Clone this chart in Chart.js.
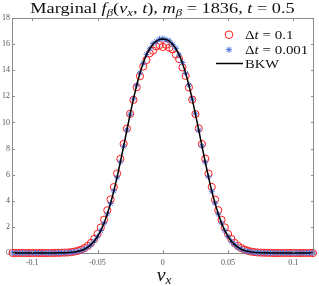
<!DOCTYPE html>
<html>
<head>
<meta charset="utf-8">
<script src="https://cdn.jsdelivr.net/npm/chart.js@4.4.1/dist/chart.umd.min.js"></script>
<style>
  html, body { margin: 0; padding: 0; background: #fff; }
  #wrap { width: 319px; height: 286px; }
</style>
</head>
<body>
<div id="wrap"><canvas id="c" width="319" height="286"></canvas></div>
<script>
// ---- data ----
const vx = [-0.115,-0.1125,-0.11,-0.1075,-0.105,-0.1025,-0.1,-0.0975,-0.095,-0.0925,-0.09,-0.0875,-0.085,-0.0825,-0.08,-0.0775,-0.075,-0.0725,-0.07,-0.0675,-0.065,-0.0625,-0.06,-0.0575,-0.055,-0.0525,-0.05,-0.0475,-0.045,-0.0425,-0.04,-0.0375,-0.035,-0.0325,-0.03,-0.0275,-0.025,-0.0225,-0.02,-0.0175,-0.015,-0.0125,-0.01,-0.0075,-0.005,-0.0025,
  0,
  0.0025,0.005,0.0075,0.01,0.0125,0.015,0.0175,0.02,0.0225,0.025,0.0275,0.03,0.0325,0.035,0.0375,0.04,0.0425,0.045,0.0475,0.05,0.0525,0.055,0.0575,0.06,0.0625,0.065,0.0675,0.07,0.0725,0.075,0.0775,0.08,0.0825,0.085,0.0875,0.09,0.0925,0.095,0.0975,0.1,0.1025,0.105,0.1075,0.11,0.1125,0.115];

const fDt01 = [0,0,0,0,0,0,0,0,0,0,0,0,0,
  0.01,0.01,0.02,0.03,0.04,0.07,0.11,0.17,0.26,0.38,0.55,0.77,1.08,1.46,1.95,2.55,3.27,4.10,5.05,6.09,7.21,8.36,9.53,10.66,11.73,12.70,13.54,14.28,14.78,15.30,15.50,15.82,15.93,
  15.78,
  15.95,15.72,15.60,15.20,14.86,14.22,13.57,12.68,11.75,10.64,9.55,8.34,7.22,6.08,5.06,4.09,3.28,2.54,1.96,1.45,1.08,0.77,0.55,0.38,0.26,0.17,0.11,0.07,0.04,0.03,0.02,0.01,0.01,
  0,0,0,0,0,0,0,0,0,0,0,0,0];

const fDt0001 = [0,0,0,0,0,0,0,0,0,0,0,0,0,
  0.00,0.01,0.01,0.02,0.03,0.05,0.08,0.12,0.19,0.30,0.44,0.63,0.91,1.25,1.72,2.27,2.99,3.79,4.76,5.80,6.98,8.17,9.43,10.62,11.81,12.84,13.80,14.54,15.21,15.64,16.04,16.20,16.39,
  16.42,
  16.34,16.25,15.98,15.68,15.17,14.58,13.76,12.87,11.78,10.66,9.40,8.20,6.95,5.83,4.73,3.82,2.96,2.29,1.70,1.27,0.89,0.65,0.43,0.30,0.18,0.13,0.08,0.05,0.03,0.02,0.01,0.01,0.00,
  0,0,0,0,0,0,0,0,0,0,0,0,0];

const fBKW = [0,0,0,0,0,0,0,0,0,0,0,0,0,
  0.00,0.01,0.01,0.02,0.03,0.05,0.08,0.13,0.19,0.29,0.44,0.64,0.90,1.26,1.71,2.28,2.98,3.80,4.75,5.81,6.97,8.18,9.42,10.64,11.80,12.85,13.78,14.56,15.19,15.66,16.01,16.23,16.36,
  16.40,
  16.36,16.23,16.01,15.66,15.19,14.56,13.78,12.85,11.80,10.64,9.42,8.18,6.97,5.81,4.75,3.80,2.98,2.28,1.71,1.26,0.90,0.64,0.44,0.29,0.19,0.13,0.08,0.05,0.03,0.02,0.01,0.01,0.00,
  0,0,0,0,0,0,0,0,0,0,0,0,0];

const xTickVals = [-0.1, -0.05, 0, 0.05, 0.1];
const xTickLabels = ['-0.1', '-0.05', '0', '0.05', '0.1'];
const yTickVals = [0, 2, 4, 6, 8, 10, 12, 14, 16, 18];
const yTickLabels = ['0', '2', '4', '6', '8', '10', '12', '14', '16', '18'];
const seriesNames = ['\u0394t = 0.1', '\u0394t = 0.001', 'BKW'];

// ---- drawing helpers ----
const SERIF = '"Liberation Serif", "DejaVu Serif", serif';
const AXIS_COLOR = '#8c8c8c';
const RED = '#ff1a1a';
const BLUE = '#4d72dc';

// draws a run of text segments; sx = horizontal stretch factor
function drawSegs(ctx, segs, x, y, align, sx) {
  sx = sx || 1;
  let total = 0;
  segs.forEach(s => { ctx.font = s.font; s.w = ctx.measureText(s.t).width; total += s.w; });
  const start = align === 'center' ? x - total * sx / 2 : x;
  ctx.save();
  ctx.translate(start, y);
  ctx.scale(sx, 1);
  ctx.textAlign = 'left';
  ctx.textBaseline = 'alphabetic';
  let cx = 0;
  segs.forEach(s => {
    ctx.font = s.font;
    ctx.fillText(s.t, cx, s.dy || 0);
    cx += s.w;
  });
  ctx.restore();
}
const R = (t, sz) => ({ t, font: sz + 'px ' + SERIF });
const I = (t, sz, dy) => ({ t, font: 'italic ' + sz + 'px ' + SERIF, dy: dy || 0 });

const boxPlugin = {
  id: 'boxAndText',
  afterDraw(chart) {
    const ctx = chart.ctx;
    const a = chart.chartArea;
    const xs = chart.scales.x, ys = chart.scales.y;
    ctx.save();
    // box top/right
    ctx.strokeStyle = AXIS_COLOR;
    ctx.lineWidth = 1;
    ctx.beginPath();
    ctx.moveTo(a.left, a.top + 0.5); ctx.lineTo(a.right, a.top + 0.5);
    ctx.moveTo(a.right - 0.5, a.top); ctx.lineTo(a.right - 0.5, a.bottom);
    ctx.stroke();
    // inward ticks
    const tl = 3;
    ctx.beginPath();
    xTickVals.forEach(v => {
      const px = Math.round(xs.getPixelForValue(v)) + 0.5;
      ctx.moveTo(px, a.bottom); ctx.lineTo(px, a.bottom - tl);
      ctx.moveTo(px, a.top); ctx.lineTo(px, a.top + tl);
    });
    yTickVals.forEach(v => {
      const py = Math.round(ys.getPixelForValue(v)) + 0.5;
      ctx.moveTo(a.left, py); ctx.lineTo(a.left + tl, py);
      ctx.moveTo(a.right, py); ctx.lineTo(a.right - tl, py);
    });
    ctx.stroke();

    // title
    ctx.fillStyle = '#111';
    drawSegs(ctx, [
      R('Marginal ', 15), I('f', 15), I('\u03b2', 10.5, 3), R('(', 15), I('v', 15), I('x', 10.5, 3),
      R(', ', 15), I('t', 15), R(')', 15), R(', ', 15), I('m', 15), I('\u03b2', 10.5, 3),
      R(' = 1836, ', 15), I('t', 15), R(' = 0.5', 15)
    ], 162.5, 12.5, 'center', 1.22);

    // x label
    drawSegs(ctx, [I('v', 18), I('x', 12, 3)], 164, 281, 'center', 1.1);

    // legend
    const lx = a.right - 85;
    const rows = [a.top + 16.7, a.top + 31.7, a.top + 45.5];
    ctx.strokeStyle = RED; ctx.lineWidth = 1;
    ctx.beginPath(); ctx.arc(lx, rows[0], 3.8, 0, Math.PI * 2); ctx.stroke();
    ctx.strokeStyle = BLUE; ctx.fillStyle = BLUE;
    Chart.helpers.drawPoint(ctx, { pointStyle: 'star', radius: 3.2, borderWidth: 1 }, lx, rows[1]);
    ctx.strokeStyle = '#000'; ctx.lineWidth = 1.5;
    ctx.beginPath(); ctx.moveTo(a.right - 98, rows[2]); ctx.lineTo(a.right - 71, rows[2]); ctx.stroke();
    ctx.fillStyle = '#111';
    const tx = a.right - 69;
    drawSegs(ctx, [R('\u0394', 13), I('t', 13), R(' = 0.1', 13)], tx, rows[0] + 4.5, 'left', 1.15);
    drawSegs(ctx, [R('\u0394', 13), I('t', 13), R(' = 0.001', 13)], tx, rows[1] + 4.5, 'left', 1.15);
    drawSegs(ctx, [R(seriesNames[2], 13)], tx, rows[2] + 4.5, 'left', 1.12);
    ctx.restore();
  }
};

const pts = arr => vx.map((v, i) => ({ x: v, y: arr[i] }));
const tickFont = { family: SERIF, size: 8 };

new Chart(document.getElementById('c'), {
  type: 'line',
  data: {
    datasets: [
      { label: seriesNames[2], data: pts(fBKW), borderColor: '#000', borderWidth: 1.5,
        pointRadius: 0, tension: 0, fill: false, order: 0, clip: false },
      { label: seriesNames[1], data: pts(fDt0001), showLine: false, pointStyle: 'star',
        pointRadius: 3, pointBorderColor: BLUE, pointBackgroundColor: BLUE, pointBorderWidth: 1,
        order: 1, clip: false },
      { label: seriesNames[0], data: pts(fDt01), showLine: false, pointStyle: 'circle',
        pointRadius: 3.6, pointBorderColor: RED, pointBackgroundColor: 'rgba(0,0,0,0)', pointBorderWidth: 1,
        order: 2, clip: false }
    ]
  },
  options: {
    responsive: false,
    animation: false,
    devicePixelRatio: 1,
    layout: { padding: { left: 0, right: 5, top: 18, bottom: 0 } },
    plugins: { legend: { display: false }, tooltip: { enabled: false }, title: { display: false } },
    scales: {
      x: {
        type: 'linear', min: -0.1155, max: 0.1158,
        grid: { display: false, drawTicks: false },
        border: { display: true, color: AXIS_COLOR, width: 1 },
        ticks: { font: tickFont, color: '#555', padding: 5, maxRotation: 0, autoSkip: false,
          callback: (v) => { const i = xTickVals.findIndex(t => Math.abs(t - v) < 1e-9); return i >= 0 ? xTickLabels[i] : ''; } },
        afterBuildTicks: s => { s.ticks = xTickVals.map(v => ({ value: v })); },
        afterFit: s => { s.height = 33; }
      },
      y: {
        type: 'linear', min: 0, max: 18,
        grid: { display: false, drawTicks: false },
        border: { display: true, color: AXIS_COLOR, width: 1 },
        ticks: { font: tickFont, color: '#555', padding: 2, autoSkip: false,
          callback: (v) => { const i = yTickVals.indexOf(v); return i >= 0 ? yTickLabels[i] : ''; } },
        afterBuildTicks: s => { s.ticks = yTickVals.map(v => ({ value: v })); },
        afterFit: s => { s.width = 12; }
      }
    }
  },
  plugins: [boxPlugin]
});
</script>
</body>
</html>
